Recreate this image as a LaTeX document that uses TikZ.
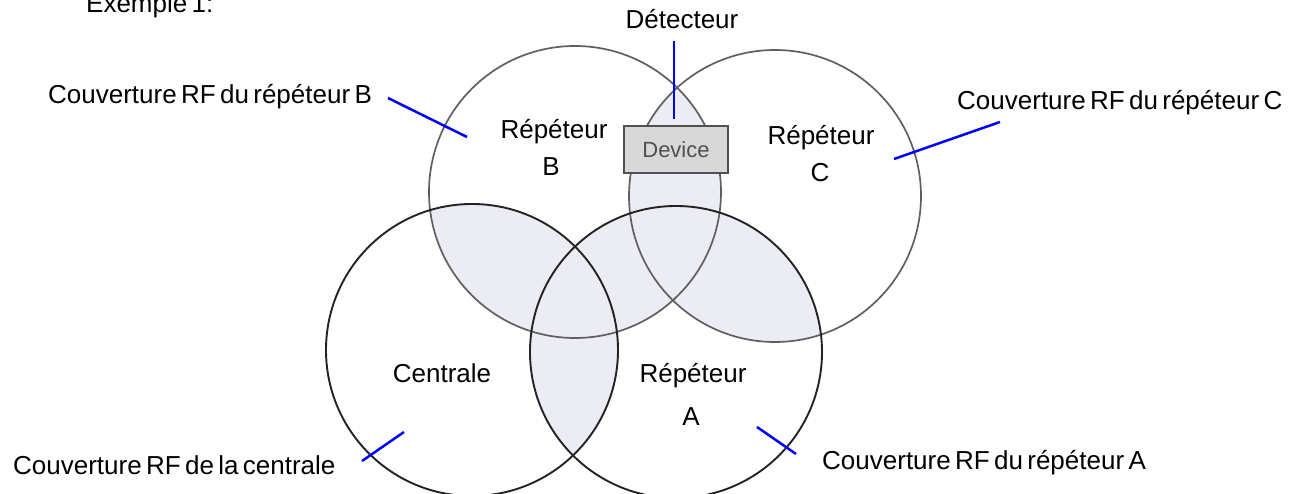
\documentclass[tikz,border=0pt]{standalone}
\usepackage{fontspec}
\setmainfont{Liberation Sans}[WordSpace=0.6]
\definecolor{leadblue}{RGB}{0,0,255}
\definecolor{lensfill}{RGB}{236,236,244}
\definecolor{ringdark}{RGB}{35,35,35}
\definecolor{ringgray}{RGB}{95,95,95}
\definecolor{devfill}{RGB}{216,216,216}
\definecolor{devtext}{RGB}{80,80,80}
\begin{document}
\begin{tikzpicture}[x=1pt,y=-1pt,
  lbl/.style={font=\fontsize{26}{30}\selectfont, inner sep=0pt},
  ringd/.style={draw=ringdark, line width=1.9pt},
  ringg/.style={draw=ringgray, line width=1.7pt},
  leader/.style={draw=leadblue, line width=2.5pt},
  lens/.style={fill=lensfill},
  devbox/.style={draw=devtext, fill=devfill, line width=1.2pt, minimum width=104pt, minimum height=47pt, inner sep=0pt, font=\fontsize{22}{26}\selectfont, text=devtext}
]
\useasboundingbox (0,0) rectangle (1291,494);
% circle centres
\coordinate (cB) at (575,192);
\coordinate (cC) at (775,196);
\coordinate (cN) at (472,350);
\coordinate (cA) at (676,352);
% overlap shading
\begin{scope}
  \clip (cB) circle [radius=146pt];
  \fill[lens] (cC) circle [radius=146pt];
  \fill[lens] (cN) circle [radius=146pt];
  \fill[lens] (cA) circle [radius=146pt];
\end{scope}
\begin{scope}
  \clip (cN) circle [radius=146pt];
  \fill[lens] (cA) circle [radius=146pt];
\end{scope}
\begin{scope}
  \clip (cA) circle [radius=146pt];
  \fill[lens] (cC) circle [radius=146pt];
\end{scope}
% circles
\draw[ringg] (cB) circle [radius=146pt];
\draw[ringg] (cC) circle [radius=146pt];
\draw[ringd] (cN) circle [radius=146pt];
\draw[ringd] (cA) circle [radius=146pt];
% device
\node[devbox] (dev) at (676,149.5) {Device};
% labels
\node[lbl, anchor=base west] (ex) at (86,13) {Exemple 1:};
\node[lbl, anchor=base west] (lB) at (48,104) {Couverture RF du répéteur B};
\node[lbl, anchor=base] (det) at (682,29) {Détecteur};
\node[lbl, anchor=base west] (lC) at (957,110) {Couverture RF du répéteur C};
\node[lbl, anchor=base west] (lN) at (13,474) {Couverture RF de la centrale};
\node[lbl, anchor=base west] (lA) at (822,469) {Couverture RF du répéteur A};
\node[lbl, anchor=base] (rB) at (554,139) {Répéteur};
\node[lbl, anchor=base] (rB2) at (551,176) {B};
\node[lbl, anchor=base] (rC) at (821,145) {Répéteur};
\node[lbl, anchor=base] (rC2) at (820,182) {C};
\node[lbl, anchor=base] (cen) at (442,383) {Centrale};
\node[lbl, anchor=base] (rA) at (693,383) {Répéteur};
\node[lbl, anchor=base] (rA2) at (691,425) {A};
% leader lines
\coordinate (lBs) at (388,98);  \coordinate (lBe) at (467,137);
\coordinate (dts) at (674,41);  \coordinate (dte) at (674,119);
\coordinate (lCs) at (1000,122); \coordinate (lCe) at (894,159);
\coordinate (lNs) at (362,461); \coordinate (lNe) at (404,432);
\coordinate (lAs) at (796,454); \coordinate (lAe) at (757,427);
\draw[leader] (lBs) -- (lBe);
\draw[leader] (dts) -- (dte);
\draw[leader] (lCs) -- (lCe);
\draw[leader] (lNs) -- (lNe);
\draw[leader] (lAs) -- (lAe);
\end{tikzpicture}
\end{document}
